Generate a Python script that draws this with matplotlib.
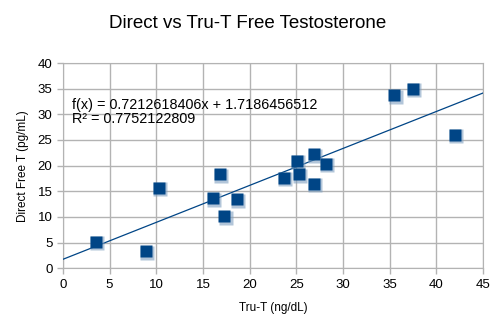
import numpy as np
import matplotlib.pyplot as plt

plt.rcParams['font.family'] = ['Liberation Sans', 'DejaVu Sans']

# Tru-T (ng/dL) vs direct free T (pg/mL)
tru_t = [3.5, 8.9, 10.3, 16.1, 16.8, 17.3, 18.6, 23.7, 25.1, 25.3, 26.9, 26.9, 28.2, 35.5, 37.5, 42.0]
direct_t = [5.1, 3.3, 15.6, 13.6, 18.3, 10.1, 13.4, 17.6, 20.9, 18.3, 22.2, 16.4, 20.3, 33.7, 35.0, 26.0]

slope = 0.7212618406
intercept = 1.7186456512
r2 = 0.7752122809

blue = '#004586'
grid = '#b3b3b3'

fig = plt.figure(figsize=(4.95, 3.27), dpi=100)
ax = fig.add_axes([0.127, 0.180, 0.849, 0.627])

xs = np.array([0, 45])
ax.plot(xs, slope * xs + intercept, color=blue, lw=0.9, zorder=3)

# soft shadow under the markers
ax.plot(np.array(tru_t) + 0.12, np.array(direct_t) - 0.25, 's', ms=9.5,
        color='#7f9fc0', alpha=0.6, mec='none', zorder=4)
ax.plot(tru_t, direct_t, 's', ms=9, color=blue, mec='none', zorder=5)

ax.text(1.0, 30.5, 'f(x) = %.10fx + %.10f\nR² = %.10f' % (slope, intercept, r2),
        fontsize=10.4, va='center', ha='left', linespacing=1.05, zorder=6)

ax.set_xlim(0, 45)
ax.set_ylim(0, 40)
ax.set_xticks(range(0, 46, 5))
ax.set_yticks(range(0, 41, 5))
ax.grid(True, color=grid, lw=1)
ax.set_axisbelow(True)
for s in ax.spines.values():
    s.set_color(grid)
ax.tick_params(colors=grid, labelcolor='black', labelsize=9.5, length=4, width=1)

ax.set_xlabel('Tru-T (ng/dL)', fontsize=8.5, labelpad=8)
ax.set_ylabel('Direct Free T (pg/mL)', fontsize=8.5, labelpad=6)
fig.suptitle('Direct vs Tru-T Free Testosterone', fontsize=13.5, y=0.955)

fig.savefig('out.png', dpi=100)
